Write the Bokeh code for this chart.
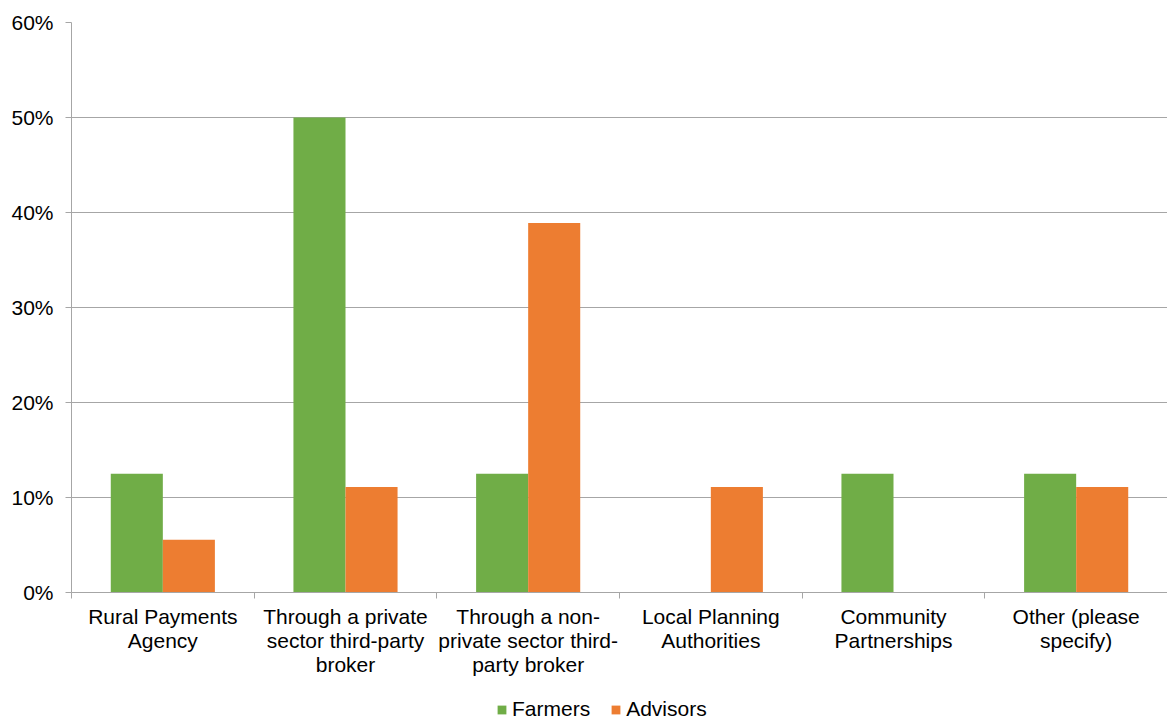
from bokeh.plotting import figure
from bokeh.layouts import column
from bokeh.models import (ColumnDataSource, Range1d, FixedTicker, PrintfTickFormatter,
                          Legend, LegendItem)
from bokeh.transform import dodge
from bokeh.embed import file_html
from bokeh.resources import INLINE

categories = ["Rural Payments\nAgency",
              "Through a private\nsector third-party\nbroker",
              "Through a non-\nprivate sector third-\nparty broker",
              "Local Planning\nAuthorities",
              "Community\nPartnerships",
              "Other (please\nspecify)"]
farmers = [12.5, 50.0, 12.5, 0.0, 12.5, 12.5]
advisors = [5.56, 11.11, 38.89, 11.11, 0.0, 11.11]
y_ticks = [0, 10, 20, 30, 40, 50, 60]
series = ["Farmers", "Advisors"]

FONT = "Liberation Sans"
FS = "21px"
GREEN = "#70AD47"
ORANGE = "#ED7D31"
GRID = "#a6a6a6"

centers = [i + 0.5 for i in range(len(categories))]
src = ColumnDataSource(dict(x=centers, farmers=farmers, advisors=advisors))

MAIN_H = 695
p = figure(width=1167, height=MAIN_H, x_range=Range1d(0, len(categories)),
           y_range=Range1d(0, 60), output_backend="svg", toolbar_location=None,
           min_border_left=71, min_border_right=0, min_border_top=22,
           min_border_bottom=MAIN_H - 592, outline_line_color=None)

bw = 0.285
r1 = p.vbar(x=dodge("x", -bw / 2, range=p.x_range), top="farmers", width=bw,
            source=src, fill_color=GREEN, line_color=None)
r2 = p.vbar(x=dodge("x", bw / 2, range=p.x_range), top="advisors", width=bw,
            source=src, fill_color=ORANGE, line_color=None)

# x axis
xa = p.xaxis[0]
xa.ticker = FixedTicker(ticks=centers, minor_ticks=list(range(len(categories) + 1)))
xa.major_label_overrides = {c: lab for c, lab in zip(centers, categories)}
xa.major_tick_out = 0
xa.major_tick_in = 0
xa.minor_tick_out = 6
xa.minor_tick_in = 0
xa.minor_tick_line_color = GRID
xa.axis_line_color = GRID
xa.major_label_text_font = FONT
xa.major_label_text_font_size = FS
xa.major_label_text_color = "#000000"
xa.major_label_text_line_height = 1.05
xa.major_label_standoff = 6
xa.major_label_orientation = "horizontal"

# y axis
ya = p.yaxis[0]
ya.ticker = FixedTicker(ticks=y_ticks, minor_ticks=[])
ya.formatter = PrintfTickFormatter(format="%d%%")
ya.major_tick_out = 6
ya.major_tick_in = 0
ya.major_tick_line_color = GRID
ya.axis_line_color = GRID
ya.major_label_text_font = FONT
ya.major_label_text_font_size = FS
ya.major_label_text_color = "#000000"
ya.major_label_standoff = 12

p.xgrid.grid_line_color = None
p.ygrid.ticker = FixedTicker(ticks=y_ticks)
p.ygrid.grid_line_color = GRID
p.ygrid.grid_line_width = 1

# legend strip (separate figure below the chart)
lg = figure(width=1167, height=721 - MAIN_H, x_range=p.x_range, y_range=p.y_range,
            output_backend="svg", toolbar_location=None, min_border=0,
            outline_line_color=None)
lg.axis.visible = False
lg.grid.visible = False
l1 = lg.vbar(x=dodge("x", -bw / 2, range=lg.x_range), top="farmers", width=bw,
             source=src, fill_color=GREEN, line_color=None, visible=False)
l2 = lg.vbar(x=dodge("x", bw / 2, range=lg.x_range), top="advisors", width=bw,
             source=src, fill_color=ORANGE, line_color=None, visible=False)

legend = Legend(items=[LegendItem(label=series[0], renderers=[l1]),
                       LegendItem(label=series[1], renderers=[l2])],
                orientation="horizontal", location=(425, 0),
                label_text_font=FONT, label_text_font_size=FS,
                label_text_color="#000000", label_height=20,
                glyph_width=11, glyph_height=11, label_standoff=5, spacing=20,
                padding=0, margin=0, border_line_color=None,
                background_fill_alpha=0, inactive_fill_alpha=0)
lg.add_layout(legend, "center")

layout = column(p, lg, spacing=0)
open("out.html", "w").write(file_html(layout, INLINE))
